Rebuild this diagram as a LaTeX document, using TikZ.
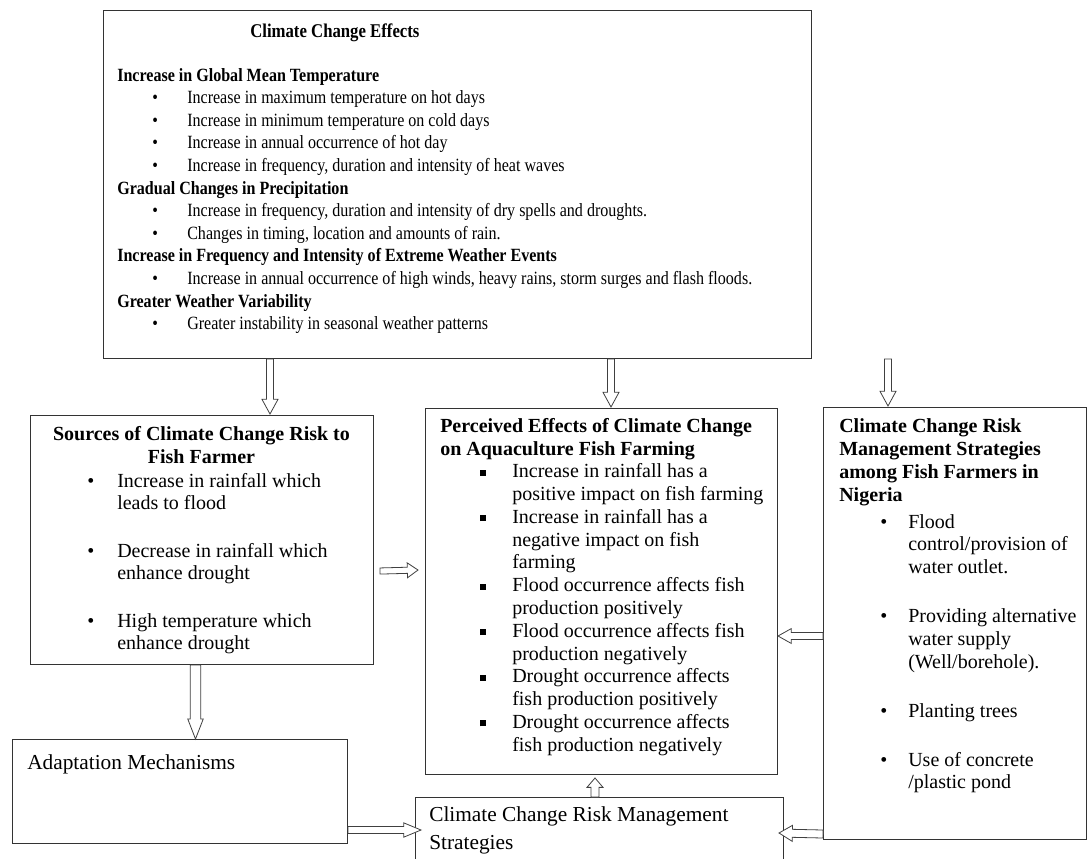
\documentclass[tikz,border=0pt]{standalone}
\usepackage{fontspec}
\setmainfont{Liberation Serif}
\newfontfamily\topfont[FakeStretch=0.86]{Liberation Serif}
\usetikzlibrary{calc}
\newcommand\fTop{\topfont\fontsize{14}{16}\selectfont}
\newcommand\fTopT{\topfont\fontsize{14.6}{16}\selectfont}
\newcommand\fBody{\fontsize{15}{17}\selectfont}
\newcommand\fBig{\fontsize{16}{20}\selectfont}
\newcommand\sqbul{\rule[0.1em]{0.3em}{0.3em}}
\tikzset{
  box/.style={draw=black!80, line width=0.75pt, inner sep=0pt, anchor=north west, fill=white},
  tt/.style={anchor=base west, inner sep=0pt, font=\fTop},
  ttb/.style={anchor=base west, inner sep=0pt, font=\fTop\bfseries},
  bt/.style={anchor=base west, inner sep=0pt, font=\fBody},
  btb/.style={anchor=base west, inner sep=0pt, font=\fBody\bfseries},
  bg/.style={anchor=base west, inner sep=0pt, font=\fBig},
  ashaft/.store in=\ashaft, ahead/.store in=\ahead, alen/.store in=\alen,
  ashaft=2.6pt, ahead=6pt, alen=9pt,
  harrow/.style={draw=black!75, line width=0.6pt, fill=white, to path={
    let \p1=(\tikztostart), \p2=(\tikztotarget),
        \n1={atan2(\y2-\y1,\x2-\x1)}, \n2={veclen(\x2-\x1,\y2-\y1)} in
    {[shift={(\p1)}, rotate=\n1] (0pt,-\ashaft) -- (\n2-\alen,-\ashaft) -- (\n2-\alen,-\ahead) -- (\n2,0pt) -- (\n2-\alen,\ahead) -- (\n2-\alen,\ashaft) -- (0pt,\ashaft) -- cycle}
  }}
}
\begin{document}
\begin{tikzpicture}[x=0.75pt,y=-0.75pt]
\useasboundingbox (0,0) rectangle (1088,858);
\clip (0,0) rectangle (1088,858);
% boxes
\node[box, minimum width=708*0.75pt, minimum height=348*0.75pt] (top) at (103,10) {};
\node[box, minimum width=343*0.75pt, minimum height=249*0.75pt] (src) at (30,415) {};
\node[box, minimum width=352*0.75pt, minimum height=366*0.75pt] (mid) at (425,408) {};
\node[box, minimum width=263*0.75pt, minimum height=432*0.75pt] (rgt) at (823,407) {};
\node[box, minimum width=335*0.75pt, minimum height=104*0.75pt] (adp) at (12,739) {};
\node[box, minimum width=368*0.75pt, minimum height=80*0.75pt] (bot) at (415,797) {};
% top box text
\node[anchor=base west, inner sep=0pt, font=\fTopT\bfseries] (ttitle) at (250,37) {Climate Change Effects};
\foreach \n/\t [count=\i] in {0/{Increase in Global Mean Temperature},5/{Gradual Changes in Precipitation},8/{Increase in Frequency and Intensity of Extreme Weather Events},10/{Greater Weather Variability}}
  \node[ttb] (th\i) at (117,{81+22.6*\n}) {\t};
\foreach \n/\t [count=\i] in {1/{Increase in maximum temperature on hot days},2/{Increase in minimum temperature on cold days},3/{Increase in annual occurrence of hot day},4/{Increase in frequency, duration and intensity of heat waves},6/{Increase in frequency, duration and intensity of dry spells and droughts.},7/{Changes in timing, location and amounts of rain.},9/{Increase in annual occurrence of high winds, heavy rains, storm surges and flash floods.},11/{Greater instability in seasonal weather patterns}}
  {\node[tt] (tb\i) at (152,{81+22.6*\n}) {•};
   \node[tt] (ti\i) at (187,{81+22.6*\n}) {\t};}
% sources box text
\node[btb, anchor=base] (stitle1) at (201.5,440) {Sources of Climate Change Risk to};
\node[btb, anchor=base] (stitle2) at (201.5,463) {Fish Farmer};
\foreach \y in {487,557,627} \node[bt] (sb\y) at (87,\y) {•};
\foreach \y/\t in {487/{Increase in rainfall which},509/{leads to flood},557/{Decrease in rainfall which},579/{enhance drought},627/{High temperature which},649/{enhance drought}}
  \node[bt] (st\y) at (117,\y) {\t};
% middle box text
\node[btb] (mtitle1) at (440,432) {Perceived Effects of Climate Change};
\node[btb] (mtitle2) at (440,455) {on Aquaculture Fish Farming};
\foreach \n in {2,4,7,9,11,13} \node[bt] (mb\n) at (480,{432+22.8*\n}) {\sqbul};
\foreach \n/\t in {2/{Increase in rainfall has a},3/{positive impact on fish farming},4/{Increase in rainfall has a},5/{negative impact on fish},6/{farming},7/{Flood occurrence affects fish},8/{production positively},9/{Flood occurrence affects fish},10/{production negatively},11/{Drought occurrence affects},12/{fish production positively},13/{Drought occurrence affects},14/{fish production negatively}}
  \node[bt] (mt\n) at (512,{432+22.8*\n}) {\t};
% right box text
\foreach \k/\t in {0/{Climate Change Risk},1/{Management Strategies},2/{among Fish Farmers in},3/{Nigeria}}
  \node[btb] (rtitle\k) at (839,{432+23.2*\k}) {\t};
\foreach \y in {528,622,717,766} \node[bt] (rb\y) at (880,\y) {•};
\foreach \y/\t in {528/{Flood},550/{control/provision of},573/{water outlet.},622/{Providing alternative},645/{water supply},668/{(Well/borehole).},717/{Planting trees},766/{Use of concrete},788/{/plastic pond}}
  \node[bt] (rt\y) at (908,\y) {\t};
% adaptation and bottom box text
\node[bg] (adptxt) at (27,769) {Adaptation Mechanisms};
\node[bg] (bottxt1) at (429,821) {Climate Change Risk Management};
\node[bg] (bottxt2) at (429,849) {Strategies};
% arrows
\draw[harrow, ashaft=2.6pt, ahead=6pt, alen=11pt] ($(top.south west)+(167,0)$) to ($(src.north west)+(240,-1)$);
\draw[harrow, ashaft=2.6pt, ahead=6pt, alen=11pt] ($(top.south west)+(508,0)$) to ($(mid.north west)+(186,-1)$);
\draw[harrow, ashaft=2.6pt, ahead=6pt, alen=11pt] ($(top.south west)+(785,0)$) to ($(rgt.north west)+(65,-1)$);
\draw[harrow, ashaft=2.3pt, ahead=5.6pt, alen=8pt] ($(src.south east)+(6,-94)$) to ($(mid.north west)+(-7,162)$);
\draw[harrow, ashaft=2.6pt, ahead=5.6pt, alen=10pt] ($(rgt.north west)+(0,229)$) to ($(mid.north east)+(0,228)$);
\draw[harrow, ashaft=4pt, ahead=5.8pt, alen=15pt] ($(src.south west)+(165.5,0)$) to ($(adp.north west)+(183.5,0)$);
\draw[harrow, ashaft=2.6pt, ahead=5.4pt, alen=13pt] ($(adp.north east)+(0,91)$) to ($(bot.north west)+(6,33)$);
\draw[harrow, ashaft=3pt, ahead=6pt, alen=7pt] ($(bot.north west)+(180,0)$) to ($(mid.south west)+(170,3)$);
\draw[harrow, ashaft=3pt, ahead=6pt, alen=10pt] ($(rgt.south west)+(0,-6)$) to ($(bot.north east)+(-5,36)$);
\end{tikzpicture}
\end{document}
